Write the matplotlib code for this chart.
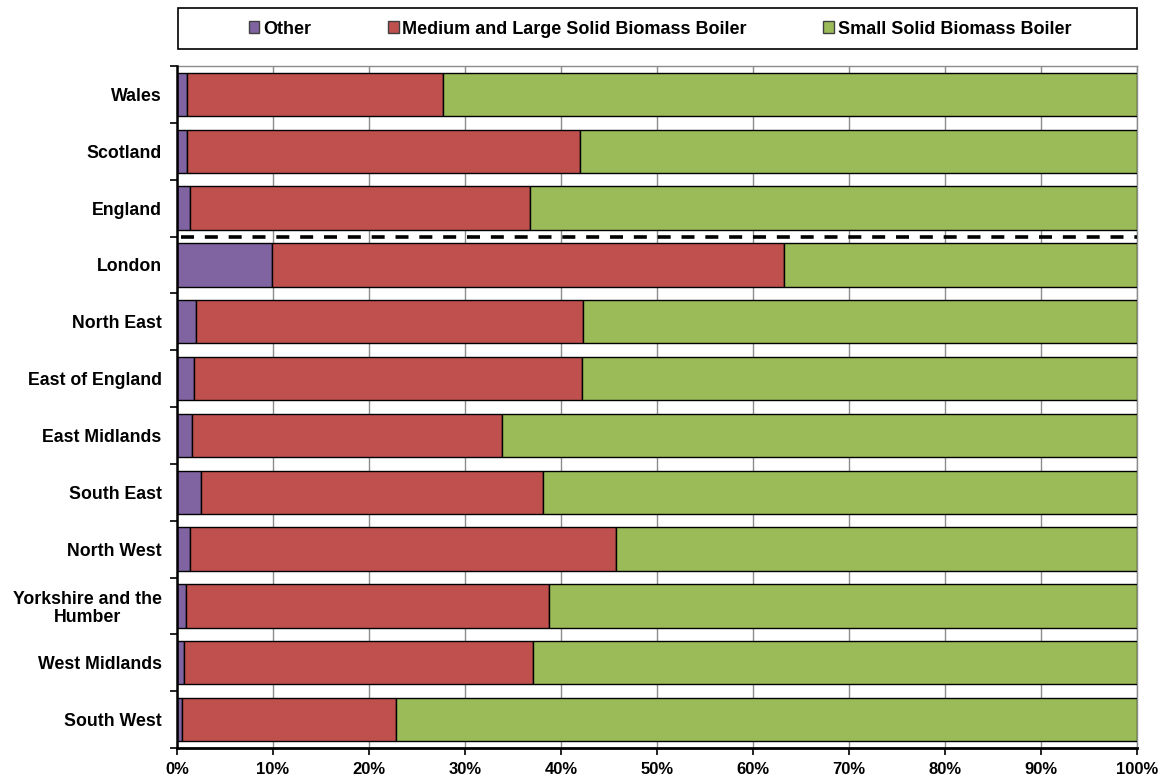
import matplotlib
matplotlib.use("Agg")
import matplotlib.pyplot as plt
from matplotlib.patches import Rectangle, Patch
import numpy as np

plt.rcParams['font.family'] = ['Liberation Sans', 'DejaVu Sans']

regions = ["Wales", "Scotland", "England", "London", "North East", "East of England",
           "East Midlands", "South East", "North West", "Yorkshire and the\nHumber",
           "West Midlands", "South West"]
other = [1.0, 1.0, 1.4, 9.9, 2.0, 1.8, 1.6, 2.5, 1.35, 0.9, 0.7, 0.5]
# cumulative end of "Medium and Large" segment (%)
med_end = [27.7, 42.0, 36.8, 63.2, 42.3, 42.2, 33.9, 38.1, 45.7, 38.8, 37.1, 22.8]
medium = [m - o for m, o in zip(med_end, other)]
small = [100 - m for m in med_end]
series_names = ["Other", "Medium and Large Solid Biomass Boiler", "Small Solid Biomass Boiler"]
colors = ["#8064A2", "#C0504D", "#9BBB59"]
xtick_labels = [f"{v}%" for v in range(0, 101, 10)]

W, H = 1169, 782
fig = plt.figure(figsize=(W / 100, H / 100), dpi=100)
ax = fig.add_axes([177 / W, 1 - 748 / H, (1137 - 177) / W, (748 - 66) / H])

n = len(regions)
y = np.arange(n)
bh = 0.765
left = np.zeros(n)
for vals, c, name in zip([other, medium, small], colors, series_names):
    ax.barh(y, vals, left=left, height=bh, color=c, edgecolor="black",
            linewidth=1.0, zorder=3, label=name)
    left = left + np.array(vals)

ax.set_xlim(0, 100)
ax.set_ylim(n - 0.5, -0.5)

ax.set_xticks(np.arange(0, 101, 10))
ax.set_xticklabels(xtick_labels, fontsize=12, fontweight="bold")
ax.set_yticks(y)
ax.set_yticklabels(regions, fontsize=12.8, fontweight="bold", multialignment="center",
                   linespacing=1.05)
ax.tick_params(axis="y", which="major", length=0, pad=11)
ax.set_yticks(np.arange(-0.5, n, 1.0), minor=True)
ax.tick_params(axis="y", which="minor", length=5, width=1.2, direction="out", color="black")
ax.tick_params(axis="x", which="major", length=5, width=1.2, direction="out", pad=5, color="black")

ax.grid(axis="x", color="#8c8c8c", linewidth=1.0, zorder=0)
ax.set_axisbelow(True)
for s in ["top", "right"]:
    ax.spines[s].set_color("#8c8c8c")
    ax.spines[s].set_linewidth(1.0)
ax.spines["left"].set_linewidth(1.8)
ax.spines["bottom"].set_linewidth(2.0)
ax.spines["left"].set_zorder(5)
ax.spines["bottom"].set_zorder(5)

# dashed separator between England and London
ax.axhline(2.5, xmin=0.004, xmax=1.0, color="black", linewidth=2.6,
           linestyle=(0, (3.6, 3.0)), zorder=4)

# legend frame
fig.patches.append(Rectangle((178 / W, 1 - 49 / H), (1137 - 178) / W, (49 - 8) / H,
                             transform=fig.transFigure, fill=False, edgecolor="black",
                             linewidth=1.2))
leg_handles = [Patch(facecolor=c, edgecolor="#404040", linewidth=1.0) for c in colors]
fig.legend(leg_handles, series_names, loc="center", bbox_to_anchor=(660 / W, 1 - 29 / H),
           ncol=3, frameon=False, handlelength=0.6, handleheight=0.6, handletextpad=0.2,
           columnspacing=4.25, prop={"size": 13, "weight": "bold"})

fig.savefig("out.png", dpi=100)
